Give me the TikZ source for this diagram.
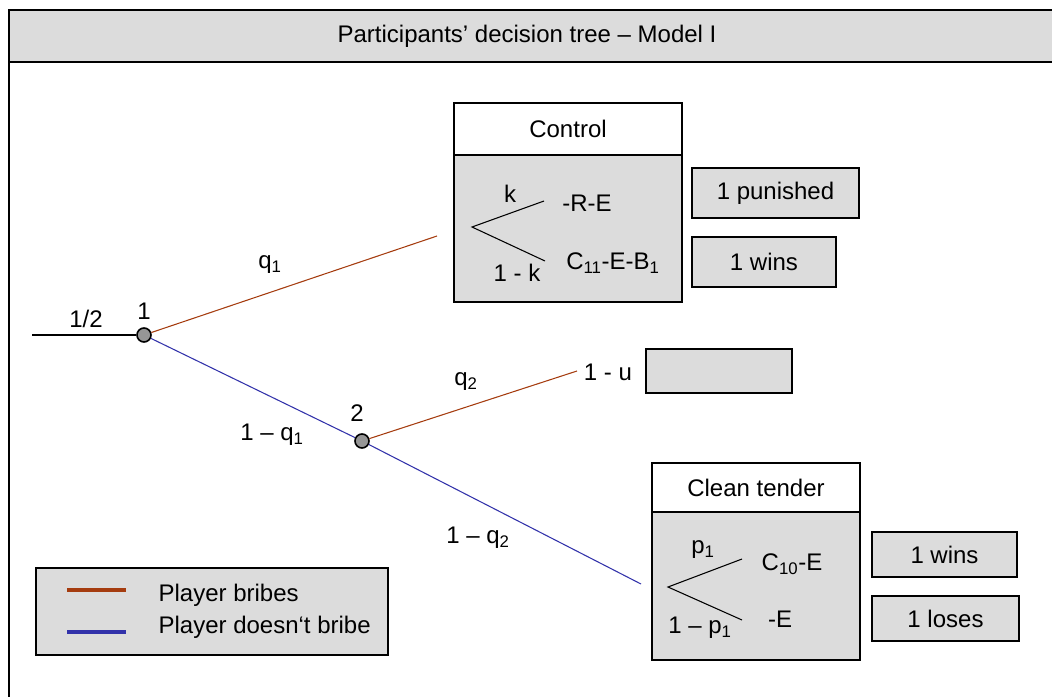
\documentclass[tikz,border=0pt]{standalone}
\usepackage{fontspec}
\setmainfont{Liberation Sans}
\usetikzlibrary{positioning}
\definecolor{bribebrown}{RGB}{165,60,15}
\definecolor{cleanblue}{RGB}{50,50,170}
\definecolor{boxgray}{RGB}{220,220,220}
\definecolor{nodegray}{RGB}{150,150,150}
\tikzset{
  lbl/.style={font=\fontsize{18}{21}\selectfont,inner sep=1pt},
  chance/.style={circle,draw,fill=nodegray,line width=1.2pt,inner sep=0pt,minimum size=10.5pt},
  panel/.style={draw,line width=1.2pt,fill=boxgray,inner sep=0pt,font=\fontsize{18}{21}\selectfont},
  panelhead/.style={panel,fill=white},
  bribe/.style={bribebrown,line width=0.8pt},
  clean/.style={cleanblue,line width=0.8pt},
  frame/.style={line width=1.6pt}
}
\begin{document}
\begin{tikzpicture}[x=0.75pt,y=-0.75pt]
  \useasboundingbox (0,0) rectangle (1052,696);
  \clip (0,0) rectangle (1052,696);

  %% Frame and title bar
  \filldraw[frame,fill=boxgray] (1070,10) -- (9,10) -- (9,62) -- (1070,62);
  \draw[frame] (9,62) -- (9,710);
  \node[lbl] (title) at (527,36) {Participants’ decision tree – Model I};

  %% Chance nodes
  \coordinate (root) at (32,335);
  \node[chance] (n1) at (144,335) {};
  \node[chance] (n2) at (362,441) {};
  \coordinate (ctrlend) at (437,236);
  \coordinate (uend) at (577,371);
  \coordinate (cleanend) at (641,584);

  \draw[line width=0.8pt] (root) -- (n1);
  \draw[bribe] (n1) -- (ctrlend);
  \draw[clean] (n1) -- (n2);
  \draw[bribe] (n2) -- (uend);
  \draw[clean] (n2) -- (cleanend);

  %% Branch labels
  \node[lbl] (half) at (86,319) {1/2};
  \node[lbl] (l1) at (144,311) {1};
  \node[lbl] (l2) at (357,413) {2};
  \node[lbl] (q1) at (270,265) {q\textsubscript{1}};
  \node[lbl] (nq1) at (272,435) {1 – q\textsubscript{1}};
  \node[lbl] (q2) at (466,382) {q\textsubscript{2}};
  \node[lbl] (nq2) at (478,538) {1 – q\textsubscript{2}};
  \node[lbl] (u) at (608,372) {1 - u};

  %% Control panel
  \node[panel,minimum width=171pt,minimum height=110.25pt] (ctrlbody) at (568,228.5) {};
  \node[panelhead,minimum width=171pt,minimum height=39pt] (ctrlhead) at (568,129) {Control};
  \coordinate (ca) at (472,227);
  \coordinate (cu) at (544,201);
  \coordinate (cl) at (545,261);
  \draw[line width=0.8pt] (cu) -- (ca) -- (cl);
  \node[lbl] (k) at (510,194) {k};
  \node[lbl] (nk) at (517,273) {1 - k};
  \node[lbl] (pun) at (587,203) {-R-E};
  \node[lbl] (win) at (613,263) {C\textsubscript{11}-E-B\textsubscript{1}};

  %% Clean tender panel
  \node[panel,minimum width=156pt,minimum height=111pt] (cleanbody) at (756,586) {};
  \node[panelhead,minimum width=156pt,minimum height=36.75pt] (cleanhead) at (756,487.5) {Clean tender};
  \coordinate (ta) at (668,587);
  \coordinate (tu) at (742,559);
  \coordinate (tl) at (742,620);
  \draw[line width=0.8pt] (tu) -- (ta) -- (tl);
  \node[lbl] (p1) at (703,550) {p\textsubscript{1}};
  \node[lbl] (np1) at (700,628) {1 – p\textsubscript{1}};
  \node[lbl] (cwin) at (792,564) {C\textsubscript{10}-E};
  \node[lbl] (close) at (780,619) {-E};

  %% Outcome boxes
  \node[panel,minimum width=125.25pt,minimum height=37.5pt] (punished) at (775.5,193) {1 punished};
  \node[panel,minimum width=108pt,minimum height=37.5pt] (wins) at (764,262) {1 wins};
  \node[panel,minimum width=109.5pt,minimum height=33pt] (empty) at (719,371) {};
  \node[panel,minimum width=108.75pt,minimum height=33.75pt] (cwins) at (944.5,554.5) {1 wins};
  \node[panel,minimum width=110.25pt,minimum height=33.75pt] (closes) at (945.5,618.5) {1 loses};

  %% Legend
  \node[panel,minimum width=264pt,minimum height=65.25pt] (legend) at (212,611.5) {};
  \coordinate (bl) at (67,590);
  \coordinate (br) at (126,590);
  \coordinate (cl1) at (67,632);
  \coordinate (cr1) at (126,632);
  \draw[bribebrown,line width=2.4pt] (bl) -- (br);
  \draw[cleanblue,line width=2.4pt] (cl1) -- (cr1);
  \node[lbl,anchor=west] (lbribe) at (157,595) {Player bribes};
  \node[lbl,anchor=west] (lclean) at (157,627) {Player doesn‘t bribe};
\end{tikzpicture}
\end{document}
